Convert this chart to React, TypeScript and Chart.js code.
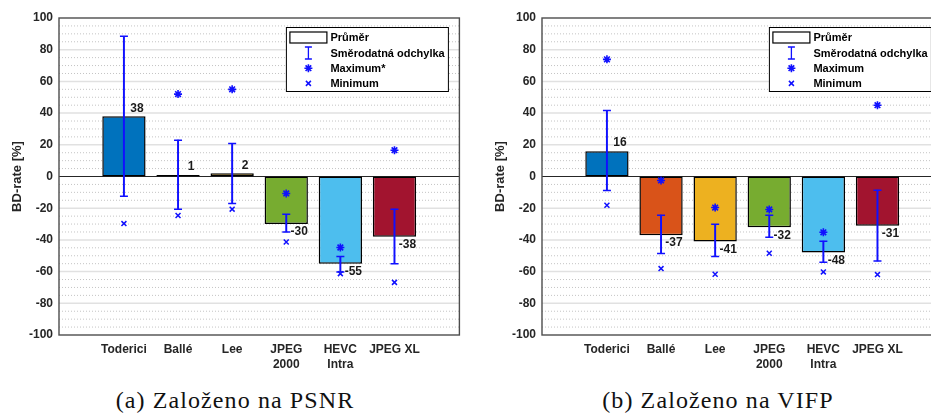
import React, { useEffect, useRef } from "react";
import { Chart, registerables } from "chart.js";

Chart.register(...registerables);

// ---------- data ----------
const categories: string[][] = [["Toderici"], ["Ballé"], ["Lee"], ["JPEG", "2000"], ["HEVC", "Intra"], ["JPEG XL"]];
const yTicks = [-100, -80, -60, -40, -20, 0, 20, 40, 60, 80, 100];

// (a) PSNR based
const psnrMean = [38, 1, 2, -30, -55, -38];
const psnrStdLow = [-12.5, -20.6, -17.1, -35.0, -60.2, -55.0];
const psnrStdHigh = [88.5, 22.9, 20.8, -23.8, -50.5, -20.6];
const psnrMax: (number | null)[] = [null, 52, 55, -10.7, -44.8, 16.6]; // Toderici max off-scale (*)
const psnrMin = [-29.7, -24.6, -20.6, -41.3, -61.3, -66.8];

// (b) VIFP based
const vifpMean = [16, -37, -41, -32, -48, -31];
const vifpStdLow = [-8.8, -48.6, -50.5, -38.3, -54.1, -53.3];
const vifpStdHigh = [41.7, -24.4, -30.1, -24.4, -40.8, -8.6];
const vifpMax = [73.9, -2.5, -19.6, -20.8, -35.2, 45];
const vifpMin = [-18.1, -58.1, -61.7, -48.4, -60.2, -61.9];

const legendPsnr = ["Průměr", "Směrodatná odchylka", "Maximum*", "Minimum"];
const legendVifp = ["Průměr", "Směrodatná odchylka", "Maximum", "Minimum"];

// ---------- styles ----------
const barColors = ["#0072BD", "#D95319", "#EDB120", "#77AC30", "#4DBEEE", "#A2142F"];
const BLUE = "#1010ff";
const FONT = '"Liberation Sans", Arial, sans-serif';
const TXT = "#262626";

type Props = {
  mean: number[];
  lo: number[];
  hi: number[];
  max: (number | null)[];
  min: number[];
  legend: string[];
};

function BDChart({ mean, lo, hi, max, min, legend }: Props) {
  const ref = useRef<HTMLCanvasElement | null>(null);

  useEffect(() => {
    if (!ref.current) return;
    const xs = categories.map((_, i) => i + 1);

    const gridPlugin = {
      id: "gridPlugin",
      beforeDatasetsDraw(chart: any) {
        const { ctx, chartArea } = chart;
        const ys = chart.scales.y;
        const { left, right } = chartArea;
        ctx.save();
        for (let v = ys.min + 5; v < ys.max; v += 5) {
          const y = ys.getPixelForValue(v);
          ctx.beginPath();
          if (v === 0) {
            ctx.setLineDash([]);
            ctx.strokeStyle = "#262626";
            ctx.lineWidth = 1;
          } else if (v % 20 === 0) {
            ctx.setLineDash([]);
            ctx.strokeStyle = "#e1e1e1";
            ctx.lineWidth = 1.5;
          } else {
            ctx.setLineDash([1, 2]);
            ctx.strokeStyle = "#c4c4c4";
            ctx.lineWidth = 1;
          }
          ctx.moveTo(left, y);
          ctx.lineTo(right, y);
          ctx.stroke();
        }
        ctx.restore();
      },
      afterDatasetsDraw(chart: any) {
        const { ctx, chartArea } = chart;
        const xsc = chart.scales.x;
        const ysc = chart.scales.y;
        ctx.save();
        // axes box
        ctx.strokeStyle = "#4d4d4d";
        ctx.lineWidth = 1.4;
        ctx.strokeRect(chartArea.left, chartArea.top, chartArea.right - chartArea.left, chartArea.bottom - chartArea.top);
        // mean labels
        ctx.fillStyle = "#1a1a1a";
        ctx.font = `bold 12px ${FONT}`;
        ctx.textAlign = "center";
        ctx.textBaseline = "middle";
        mean.forEach((m, i) => {
          const x = xsc.getPixelForValue(i + 1) + 13;
          const y = ysc.getPixelForValue(m) + (m >= 0 ? -8 : 8);
          ctx.fillText(String(Math.round(m)), x, y);
        });
        ctx.restore();
      },
      afterDraw(chart: any) {
        const { ctx, chartArea } = chart;
        const w = 162, h = 64;
        const x0 = chartArea.right - 11 - w;
        const y0 = chartArea.top + 9.5;
        ctx.save();
        ctx.fillStyle = "#fff";
        ctx.fillRect(x0, y0, w, h);
        ctx.strokeStyle = "#000";
        ctx.lineWidth = 1;
        ctx.strokeRect(x0, y0, w, h);
        const sx = x0 + 22;
        const rows = [0, 1, 2, 3].map((k) => y0 + 10.3 + 15.2 * k);
        // swatch
        ctx.fillStyle = "#fff";
        ctx.fillRect(x0 + 3.5, y0 + 4.5, 37, 11);
        ctx.lineWidth = 1.2;
        ctx.strokeRect(x0 + 3.5, y0 + 4.5, 37, 11);
        ctx.strokeStyle = BLUE;
        ctx.lineWidth = 1.3;
        // errorbar symbol
        let cy = rows[1];
        ctx.beginPath();
        ctx.moveTo(sx, cy - 6); ctx.lineTo(sx, cy + 6);
        ctx.moveTo(sx - 3.5, cy - 6); ctx.lineTo(sx + 3.5, cy - 6);
        ctx.moveTo(sx - 3.5, cy + 6); ctx.lineTo(sx + 3.5, cy + 6);
        ctx.stroke();
        // star
        cy = rows[2];
        const r = 4;
        ctx.lineWidth = 1.6;
        ctx.beginPath();
        for (let a = 0; a < 4; a++) {
          const ang = (a * Math.PI) / 4;
          ctx.moveTo(sx - Math.cos(ang) * r, cy - Math.sin(ang) * r);
          ctx.lineTo(sx + Math.cos(ang) * r, cy + Math.sin(ang) * r);
        }
        ctx.stroke();
        // cross
        cy = rows[3];
        const c = 2.5;
        ctx.lineWidth = 1.5;
        ctx.beginPath();
        ctx.moveTo(sx - c, cy - c); ctx.lineTo(sx + c, cy + c);
        ctx.moveTo(sx - c, cy + c); ctx.lineTo(sx + c, cy - c);
        ctx.stroke();
        // texts
        ctx.fillStyle = "#000";
        ctx.font = `bold 11px ${FONT}`;
        ctx.textAlign = "left";
        ctx.textBaseline = "middle";
        legend.forEach((t, k) => ctx.fillText(t, x0 + 44, rows[k] + 0.5));
        ctx.restore();
      },
    };

    const chart = new Chart(ref.current, {
      type: "bar",
      data: {
        datasets: [
          {
            type: "bar",
            label: legend[0],
            data: xs.map((x, i) => ({ x, y: mean[i] })),
            backgroundColor: barColors,
            borderColor: "#000000",
            borderWidth: 1.5,
            borderSkipped: false,
            barPercentage: 0.8,
            categoryPercentage: 1,
            grouped: false,
            order: 5,
          } as any,
          {
            type: "bar",
            label: legend[1],
            data: xs.map((x, i) => ({ x, y: [lo[i], hi[i]] })),
            backgroundColor: BLUE,
            borderWidth: 0,
            barThickness: 1.3,
            grouped: false,
            order: 4,
          } as any,
          {
            type: "line",
            label: "caps",
            data: [...xs.map((x, i) => ({ x, y: lo[i] })), ...xs.map((x, i) => ({ x, y: hi[i] }))],
            showLine: false,
            pointStyle: "line",
            pointRadius: 4,
            borderColor: BLUE,
            borderWidth: 1.5,
            order: 3,
          } as any,
          {
            type: "line",
            label: legend[2],
            data: xs.map((x, i) => ({ x, y: max[i] })),
            showLine: false,
            pointStyle: "star",
            pointRadius: 4,
            borderColor: BLUE,
            backgroundColor: BLUE,
            borderWidth: 1.6,
            order: 2,
          } as any,
          {
            type: "line",
            label: legend[3],
            data: xs.map((x, i) => ({ x, y: min[i] })),
            showLine: false,
            pointStyle: "crossRot",
            pointRadius: 3.5,
            borderColor: BLUE,
            borderWidth: 1.5,
            order: 1,
          } as any,
        ],
      },
      options: {
        animation: false,
        responsive: false,
        events: [],
        layout: { padding: { top: 18, right: 5, bottom: 0, left: 0 } },
        plugins: { legend: { display: false }, tooltip: { enabled: false } },
        scales: {
          x: {
            type: "linear",
            min: -0.2,
            max: 7.2,
            offset: false,
            grid: { display: false, drawTicks: false },
            border: { display: false },
            afterBuildTicks: (s: any) => {
              s.ticks = xs.map((v) => ({ value: v }));
            },
            afterFit: (s: any) => {
              s.height = 40;
            },
            ticks: {
              autoSkip: false,
              maxRotation: 0,
              padding: 7,
              color: TXT,
              font: { family: FONT, size: 12, weight: "bold", lineHeight: 1.25 },
              callback: (v: any) => categories[Number(v) - 1] ?? "",
            },
          },
          y: {
            type: "linear",
            min: -100,
            max: 100,
            grid: { display: false, drawTicks: false },
            border: { display: false },
            afterBuildTicks: (s: any) => {
              s.ticks = yTicks.map((v) => ({ value: v }));
            },
            afterFit: (s: any) => {
              s.width = 59;
            },
            ticks: {
              padding: 6,
              color: TXT,
              font: { family: FONT, size: 12, weight: "bold" },
            },
            title: {
              display: true,
              text: "BD-rate [%]",
              color: TXT,
              padding: { top: 10, bottom: 0 },
              font: { family: FONT, size: 13, weight: "bold", lineHeight: 1.2 },
            },
          },
        },
      } as any,
      plugins: [gridPlugin],
    });
    return () => chart.destroy();
  }, [mean, lo, hi, max, min, legend]);

  return <canvas ref={ref} width={465} height={375} style={{ display: "block" }} />;
}

const captionStyle: React.CSSProperties = {
  position: "absolute",
  top: 388,
  width: 470,
  textAlign: "center",
  fontFamily: '"Liberation Serif", "Times New Roman", serif',
  fontSize: 24,
  lineHeight: "24px",
  letterSpacing: 1.1,
  color: "#111",
  whiteSpace: "nowrap",
};

export default function App() {
  return (
    <div style={{ position: "fixed", left: 0, top: 0, width: 931, height: 414, overflow: "hidden", background: "#fff" }}>
      <div style={{ position: "absolute", left: 0, top: 0 }}>
        <BDChart mean={psnrMean} lo={psnrStdLow} hi={psnrStdHigh} max={psnrMax} min={psnrMin} legend={legendPsnr} />
      </div>
      <div style={{ position: "absolute", left: 483, top: 0 }}>
        <BDChart mean={vifpMean} lo={vifpStdLow} hi={vifpStdHigh} max={vifpMax} min={vifpMin} legend={legendVifp} />
      </div>
      <div style={{ ...captionStyle, left: 0 }}>(a) Založeno na PSNR</div>
      <div style={{ ...captionStyle, left: 483 }}>(b) Založeno na VIFP</div>
    </div>
  );
}
